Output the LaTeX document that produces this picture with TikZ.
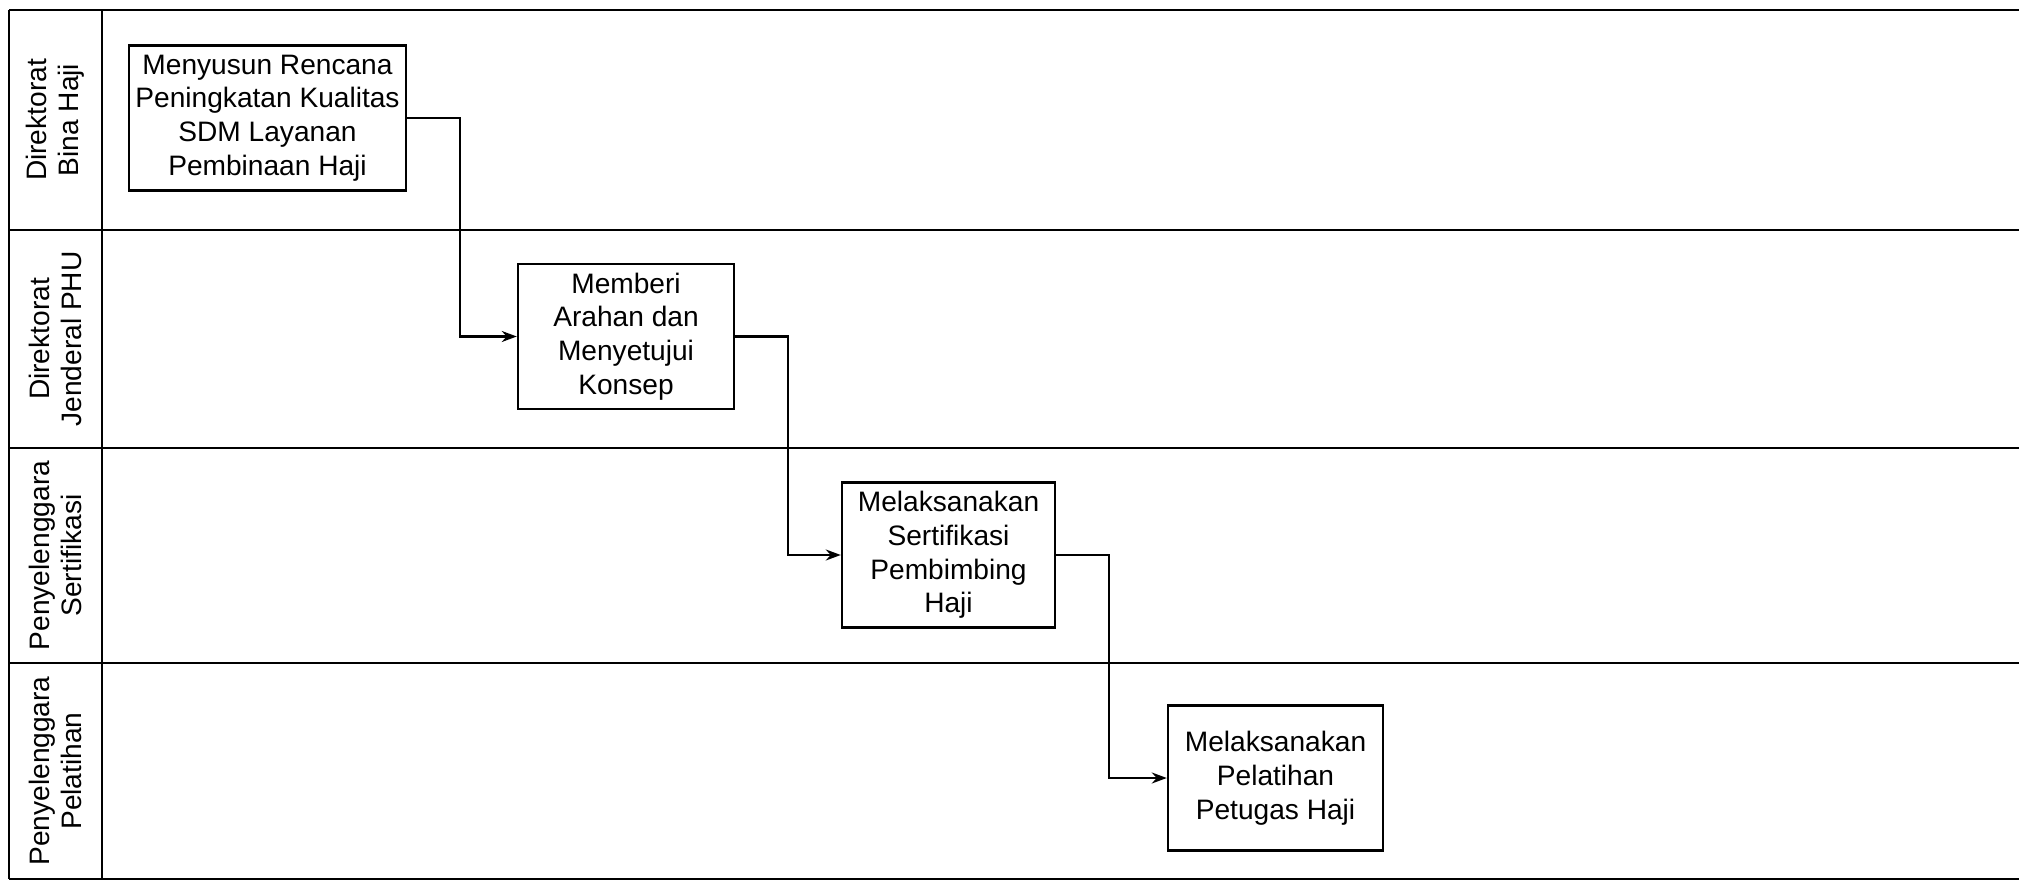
\documentclass[tikz,border=0pt]{standalone}
\usepackage{fontspec}
\setmainfont{Liberation Sans}
\usepackage{tikz}
\usetikzlibrary{arrows.meta, positioning}

\begin{document}
\begin{tikzpicture}[
    lane/.style={line width=0.8pt},
    lanelabel/.style={rotate=90, align=center, font=\fontsize{8}{9.2}\selectfont},
    task/.style={draw, line width=0.7pt, align=center, inner sep=0pt, minimum height=1.45cm, font=\fontsize{8}{9.6}\selectfont},
    flow/.style={line width=0.6pt, -{Stealth[length=1.5mm, width=1.1mm]}}
  ]
    \useasboundingbox (0,0) rectangle (20.19,8.86);

    % lanes
    \foreach \y in {8.76,6.56,4.38,2.23,0.07} {
        \draw[lane] (0.09,\y) -- (20.19,\y);
    }
    \draw[lane] (0.09,0.07) -- (0.09,8.76);
    \draw[lane] (1.02,0.07) -- (1.02,8.76);

    % lane names
    \node[lanelabel] (binahaji) at (0.555, 7.66) {Direktorat\\Bina Haji};
    \node[lanelabel] (phu) at (0.555, 5.47) {Direktorat\\Jenderal PHU};
    \node[lanelabel] (penysert) at (0.555, 3.305) {Penyelenggara\\Sertifikasi};
    \node[lanelabel] (penypel) at (0.555, 1.15) {Penyelenggara\\Pelatihan};

    % tasks
    \node[task, minimum width=2.77cm] (menyusun) at (2.675, 7.68) {Menyusun Rencana\\Peningkatan Kualitas\\SDM Layanan\\Pembinaan Haji};
    \node[task, minimum width=2.16cm] (arahan) at (6.26, 5.495) {Memberi\\Arahan dan\\Menyetujui\\Konsep};
    \node[task, minimum width=2.13cm] (sertifikasi) at (9.485, 3.31) {Melaksanakan\\Sertifikasi\\Pembimbing\\Haji};
    \node[task, minimum width=2.15cm] (pelatihan) at (12.755, 1.08) {Melaksanakan\\Pelatihan\\Petugas Haji};

    % flow
    \foreach \a/\b in {menyusun/arahan, arahan/sertifikasi, sertifikasi/pelatihan} {
        \draw[flow] (\a.east) -- ++(0.53,0) |- (\b.west);
    }
\end{tikzpicture}
\end{document}
